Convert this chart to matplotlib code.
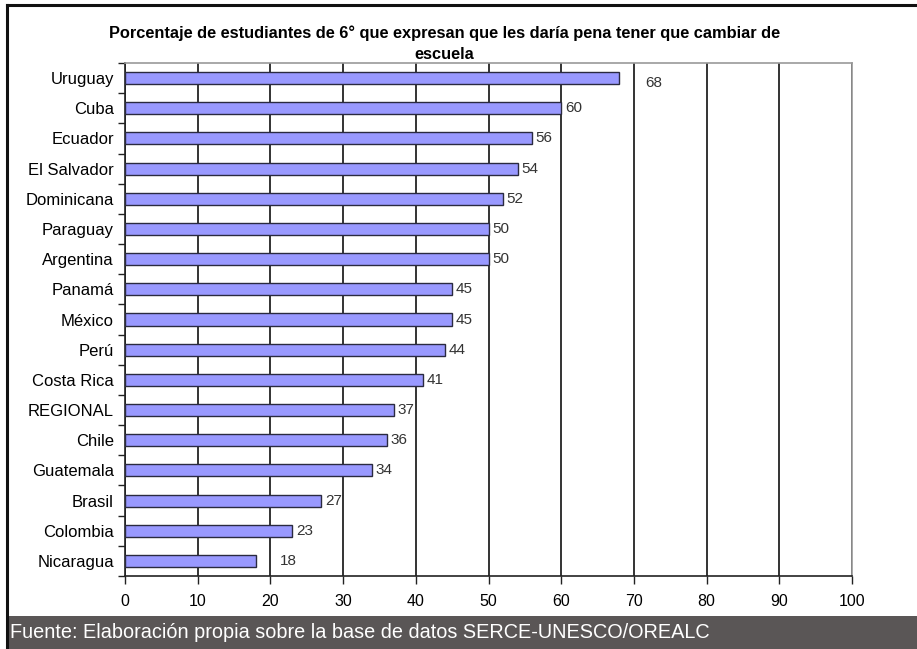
import matplotlib.pyplot as plt
from matplotlib.patches import Rectangle
from matplotlib.lines import Line2D

countries = ["Uruguay", "Cuba", "Ecuador", "El Salvador", "Dominicana", "Paraguay",
             "Argentina", "Panamá", "México", "Perú", "Costa Rica", "REGIONAL",
             "Chile", "Guatemala", "Brasil", "Colombia", "Nicaragua"]
percent = [68, 60, 56, 54, 52, 50, 50, 45, 45, 44, 41, 37, 36, 34, 27, 23, 18]
x_ticks = [0, 10, 20, 30, 40, 50, 60, 70, 80, 90, 100]

title = ("Porcentaje de estudiantes de 6° que expresan que les daría pena tener que cambiar de\n"
         "escuela")
source = "Fuente: Elaboración propia sobre la base de datos SERCE-UNESCO/OREALC"

plt.rcParams['font.family'] = ['Liberation Sans', 'DejaVu Sans']

fig = plt.figure(figsize=(9.17, 6.49), dpi=100)
W, H = 917, 649
ax = fig.add_axes([125 / W, 1 - 576 / H, 727 / W, 513 / H])

pos = list(range(len(countries)))
ax.barh(pos, percent, height=0.4, color='#9999ff', edgecolor='#2a2a40',
        linewidth=1.0, zorder=3)

ax.set_xlim(0, 100)
ax.set_ylim(len(countries) - 0.5, -0.5)
ax.set_xticks(x_ticks)
ax.set_xticklabels([str(t) for t in x_ticks], fontsize=11.5)
ax.set_yticks(pos)
ax.set_yticklabels(countries, fontsize=12)
ax.tick_params(axis='y', length=0, pad=8)
ax.set_yticks([p - 0.5 for p in pos] + [len(countries) - 0.5], minor=True)
ax.tick_params(axis='y', which='minor', length=5, width=1, color='#222222')
ax.tick_params(axis='x', length=6, width=1, color='#222222', pad=7)

ax.grid(axis='x', color='#333333', linewidth=1.4, zorder=1)
for side in ('top', 'right'):
    ax.spines[side].set_color('#999999')
    ax.spines[side].set_linewidth(1.2)
for side in ('left', 'bottom'):
    ax.spines[side].set_color('#222222')
    ax.spines[side].set_linewidth(1.2)

# value labels next to each bar end
for i, v in enumerate(percent):
    dx, dy = 0.5, 0.0
    if v == 68:
        dx, dy = 3.5, 0.15
    elif v == 18:
        dx, dy = 3.3, 0.0
    ax.text(v + dx, i + dy, str(v), va='center', ha='left', fontsize=11,
            color='#333333', zorder=4)

fig.text(0.485, 1 - 44 / H, title, ha='center', va='center', fontsize=11.8,
         fontweight='bold', linespacing=1.5)

# outer frame and source band
fig.add_artist(Line2D([7 / W, 7 / W], [0, 1 - 5 / H], color='#111111', linewidth=2.2))
fig.add_artist(Line2D([7 / W, 1], [1 - 5 / H, 1 - 5 / H], color='#111111', linewidth=2.2))
fig.add_artist(Rectangle((8 / W, 0), 1 - 8 / W, 33 / H, transform=fig.transFigure,
                         facecolor='#5a5656', edgecolor='none'))
fig.text(10 / W, 16 / H, source, ha='left', va='center', fontsize=14.3, color='white')

fig.savefig('out.png', dpi=100)
